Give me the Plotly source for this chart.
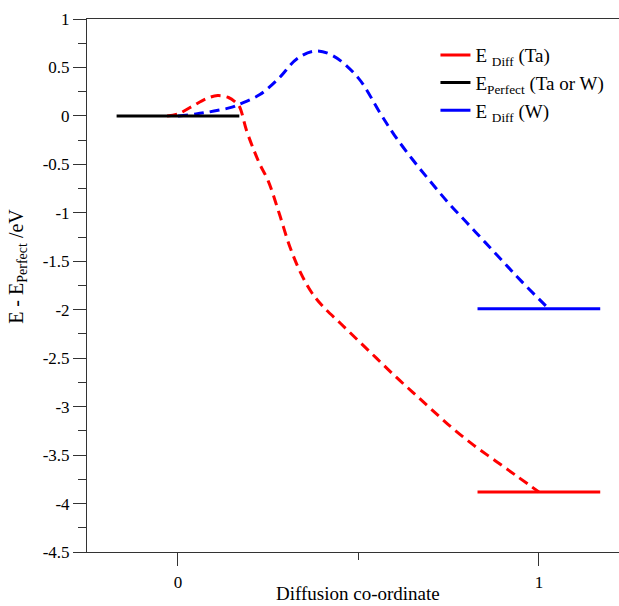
import plotly.graph_objects as go

# ---- data ----
ta_x = [-0.03, 0.0, 0.04, 0.08, 0.11, 0.14, 0.16, 0.17, 0.19, 0.21, 0.227, 0.25, 0.28, 0.31,
        0.34, 0.37, 0.40, 0.45, 0.50, 0.55, 0.60, 0.65, 0.70, 0.76, 0.82, 0.88, 0.94, 1.0]
ta_y = [0.0, 0.02, 0.1, 0.18, 0.21, 0.19, 0.14, 0.1, -0.15, -0.35, -0.5, -0.67, -1.0, -1.35,
        -1.62, -1.82, -1.96, -2.14, -2.32, -2.5, -2.68, -2.85, -3.02, -3.22, -3.4, -3.56, -3.72, -3.88]

w_x = [0.0, 0.05, 0.1, 0.15, 0.17, 0.227, 0.28, 0.33, 0.38, 0.43, 0.5, 0.56, 0.6, 0.65,
       0.7, 0.75, 0.8, 0.85, 0.9, 0.95, 1.03]
w_y = [0.0, 0.02, 0.05, 0.09, 0.12, 0.22, 0.39, 0.59, 0.67, 0.62, 0.39, 0.03, -0.2, -0.45,
       -0.68, -0.9, -1.1, -1.3, -1.5, -1.7, -2.0]

perfect_x = [-0.17, 0.17]
perfect_y = [0.0, 0.0]

ta_final_x = [0.83, 1.17]
ta_final_y = [-3.88, -3.88]
w_final_x = [0.83, 1.17]
w_final_y = [-1.99, -1.99]

names = ["E <sub>Diff</sub> (Ta)", "E<sub>Perfect</sub> (Ta or W)", "E <sub>Diff</sub> (W)"]
colors = ["#ff0000", "#000000", "#0000ff"]

y_ticks = [1, 0.5, 0, -0.5, -1, -1.5, -2, -2.5, -3, -3.5, -4, -4.5]
x_ticks = [0, 1]

x_title = "Diffusion co-ordinate"
y_title = "E - E<sub>Perfect</sub> /eV"

FONT = "Liberation Serif"

fig = go.Figure()
dash = "10px,6px"
fig.add_trace(go.Scatter(x=ta_x, y=ta_y, mode="lines", line=dict(color=colors[0], width=3, dash=dash, shape="spline"),
                         showlegend=False, hoverinfo="skip"))
fig.add_trace(go.Scatter(x=w_x, y=w_y, mode="lines", line=dict(color=colors[2], width=3, dash=dash, shape="spline"),
                         showlegend=False, hoverinfo="skip"))
fig.add_trace(go.Scatter(x=ta_final_x, y=ta_final_y, mode="lines", line=dict(color=colors[0], width=3),
                         name=names[0], legendrank=1))
fig.add_trace(go.Scatter(x=perfect_x, y=perfect_y, mode="lines", line=dict(color=colors[1], width=3),
                         name=names[1], legendrank=2))
fig.add_trace(go.Scatter(x=w_final_x, y=w_final_y, mode="lines", line=dict(color=colors[2], width=3),
                         name=names[2], legendrank=3))

tickfont = dict(family=FONT, size=17, color="black")

fig.update_layout(
    width=619, height=606,
    margin=dict(l=87, r=0, t=19, b=54),
    paper_bgcolor="white", plot_bgcolor="white",
    font=dict(family=FONT, size=17, color="black"),
    legend=dict(x=0.655, y=0.968, xanchor="left", yanchor="top", bgcolor="rgba(0,0,0,0)",
                font=dict(family=FONT, size=19), tracegroupgap=0),
    xaxis=dict(range=[-0.252, 1.222], showgrid=False, zeroline=False,
               showline=True, linecolor="#333333", linewidth=1, mirror=True,
               tickmode="array", tickvals=x_ticks, ticktext=[str(v) for v in x_ticks],
               tickfont=tickfont,
               ticks="outside", ticklen=13, tickcolor="#333333", ticklabelstandoff=2,
               minor=dict(dtick=0.5, tick0=0, ticks="outside", ticklen=7, tickcolor="#333333")),
    yaxis=dict(range=[-4.5, 1], showgrid=False, zeroline=False,
               showline=True, linecolor="#333333", linewidth=1, mirror=False,
               tickmode="array", tickvals=y_ticks, ticktext=[f"{v:g}" for v in y_ticks],
               tickfont=tickfont,
               ticks="outside", ticklen=13, tickcolor="#333333",
               minor=dict(dtick=0.25, tick0=0, ticks="outside", ticklen=8, tickcolor="#333333")),
    annotations=[
        dict(text=x_title, xref="paper", yref="paper", x=0.51, y=0, yshift=-54,
             xanchor="center", yanchor="bottom", showarrow=False, font=dict(family=FONT, size=19)),
        dict(text=y_title, xref="paper", yref="paper", x=0, y=0.535, xshift=-69,
             xanchor="center", yanchor="middle", textangle=-90, showarrow=False,
             font=dict(family=FONT, size=20)),
    ],
)

fig.write_html("out.html", config={"displayModeBar": False},
               post_script="document.body.style.margin='0';document.body.style.overflow='hidden';")
